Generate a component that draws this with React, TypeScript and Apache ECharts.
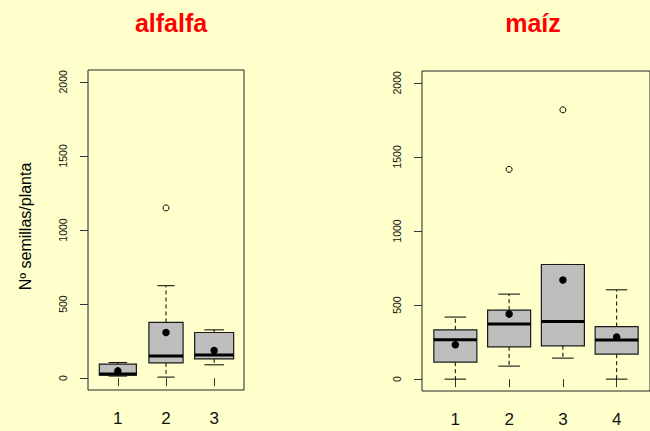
import React, { useEffect, useRef } from "react";
import * as echarts from "echarts";

// ---- data ----
const alfalfaCategories = ["1", "2", "3"];
// [lower whisker, Q1, median, Q3, upper whisker]
const alfalfaStats = [
  [14, 21, 28, 95, 105],
  [7, 103, 150, 376, 624],
  [90, 130, 157, 308, 326],
];
const alfalfaMeans = [49, 308, 187];
const alfalfaOutliers = [[2, 1149]];

const maizCategories = ["1", "2", "3", "4"];
const maizStats = [
  [0, 115, 266, 333, 419],
  [88, 218, 372, 466, 574],
  [142, 225, 389, 774, 774],
  [0, 169, 264, 355, 603],
];
const maizMeans = [232, 439, 669, 284];
const maizOutliers = [
  [2, 1416],
  [3, 1818],
];

const yTicks = [0, 500, 1000, 1500, 2000];

// ---- styles ----
const alfalfaBoxWidths = [0.77, 0.71, 0.81];
const maizBoxWidths = [0.8, 0.8, 0.8, 0.8];
const FONT = "Liberation Sans, Arial, Helvetica, sans-serif";
const BG = "#FFFFCC";

function renderBox(params: any, api: any) {
  const x = api.value(0);
  const low = api.value(1);
  const q1 = api.value(2);
  const med = api.value(3);
  const q3 = api.value(4);
  const high = api.value(5);
  const w = api.value(6);
  const cx = api.coord([x, med])[0];
  const yLow = api.coord([x, low])[1];
  const yQ1 = api.coord([x, q1])[1];
  const yMed = api.coord([x, med])[1];
  const yQ3 = api.coord([x, q3])[1];
  const yHigh = api.coord([x, high])[1];
  const half = api.size([w, 0])[0] / 2;
  const cap = half / 2;
  const dash = { stroke: "#000", lineWidth: 1, lineDash: [4, 3] };
  const solid = { stroke: "#000", lineWidth: 1 };
  return {
    type: "group",
    children: [
      { type: "line", shape: { x1: cx, y1: yQ1, x2: cx, y2: yLow }, style: dash },
      { type: "line", shape: { x1: cx, y1: yQ3, x2: cx, y2: yHigh }, style: dash },
      { type: "line", shape: { x1: cx - cap, y1: yLow, x2: cx + cap, y2: yLow }, style: solid },
      { type: "line", shape: { x1: cx - cap, y1: yHigh, x2: cx + cap, y2: yHigh }, style: solid },
      {
        type: "rect",
        shape: { x: cx - half, y: yQ3, width: half * 2, height: yQ1 - yQ3 },
        style: { fill: "#BEBEBE", stroke: "#1a1a1a", lineWidth: 1.2 },
      },
      {
        type: "line",
        shape: { x1: cx - half, y1: yMed, x2: cx + half, y2: yMed },
        style: { stroke: "#000", lineWidth: 3 },
      },
    ],
  };
}

function makeX(gridIndex: number, cats: string[]) {
  const vals = cats.map((_, i) => i + 1);
  return {
    gridIndex,
    type: "value",
    min: 0.38,
    max: cats.length + 0.62,
    axisLine: { show: false },
    splitLine: { show: false },
    axisTick: { show: true, length: 8, customValues: vals, lineStyle: { color: "#333", width: 1 } },
    axisLabel: {
      customValues: vals,
      formatter: (v: number) => cats[Math.round(v) - 1] ?? "",
      fontSize: 17,
      margin: 20,
      color: "#111",
      fontFamily: FONT,
    },
  };
}

function makeY(gridIndex: number) {
  return {
    gridIndex,
    type: "value",
    min: -80,
    max: 2080,
    axisLine: { show: false },
    splitLine: { show: false },
    axisTick: { show: true, length: 8, customValues: yTicks, lineStyle: { color: "#333", width: 1 } },
    axisLabel: {
      customValues: yTicks,
      formatter: (v: number) => String(v),
      rotate: 90,
      fontSize: 10.5,
      margin: 20,
      color: "#111",
      fontFamily: FONT,
    },
  };
}

export default function App() {
  const ref = useRef<HTMLDivElement>(null);
  useEffect(() => {
    if (!ref.current) return;
    const chart = echarts.init(ref.current, undefined, { renderer: "svg" });
    const grids = [
      { left: 88, top: 70, width: 156, height: 320 },
      { left: 422, top: 71, width: 233, height: 320 },
    ].map((g) => ({ ...g, show: true, borderColor: "#222", borderWidth: 1, backgroundColor: "transparent" }));

    const boxData = (stats: number[][], widths: number[]) =>
      stats.map((s, i) => [i + 1, ...s, widths[i]]);

    const meanStyle = { color: "#000", opacity: 1 };
    const outlierStyle = { color: "transparent", borderColor: "#000", borderWidth: 1, opacity: 1 };

    chart.setOption({
      animation: false,
      backgroundColor: BG,
      grid: grids,
      xAxis: [makeX(0, alfalfaCategories), makeX(1, maizCategories)],
      yAxis: [makeY(0), makeY(1)],
      graphic: [
        {
          type: "text",
          x: 171,
          y: 23,
          style: {
            text: "alfalfa",
            fill: "#FF0000",
            font: `bold 25px ${FONT}`,
            textAlign: "center",
            textVerticalAlign: "middle",
          },
        },
        {
          type: "text",
          x: 533,
          y: 23,
          style: {
            text: "maíz",
            fill: "#FF0000",
            font: `bold 25px ${FONT}`,
            textAlign: "center",
            textVerticalAlign: "middle",
          },
        },
        {
          type: "text",
          x: 25.5,
          y: 226.5,
          rotation: Math.PI / 2,
          style: {
            text: "Nº semillas/planta",
            fill: "#000",
            font: `16px ${FONT}`,
            textAlign: "center",
            textVerticalAlign: "middle",
          },
        },
      ],
      series: [
        {
          type: "custom",
          xAxisIndex: 0,
          yAxisIndex: 0,
          renderItem: renderBox,
          encode: { x: 0, y: [1, 2, 3, 4, 5] },
          data: boxData(alfalfaStats, alfalfaBoxWidths),
          z: 2,
        },
        {
          type: "custom",
          xAxisIndex: 1,
          yAxisIndex: 1,
          renderItem: renderBox,
          encode: { x: 0, y: [1, 2, 3, 4, 5] },
          data: boxData(maizStats, maizBoxWidths),
          z: 2,
        },
        {
          type: "scatter",
          xAxisIndex: 0,
          yAxisIndex: 0,
          symbol: "circle",
          symbolSize: 7.5,
          itemStyle: meanStyle,
          data: alfalfaMeans.map((m, i) => [i + 1, m]),
          z: 5,
        },
        {
          type: "scatter",
          xAxisIndex: 1,
          yAxisIndex: 1,
          symbol: "circle",
          symbolSize: 7.5,
          itemStyle: meanStyle,
          data: maizMeans.map((m, i) => [i + 1, m]),
          z: 5,
        },
        {
          type: "scatter",
          xAxisIndex: 0,
          yAxisIndex: 0,
          symbol: "circle",
          symbolSize: 6,
          itemStyle: outlierStyle,
          data: alfalfaOutliers,
          z: 5,
        },
        {
          type: "scatter",
          xAxisIndex: 1,
          yAxisIndex: 1,
          symbol: "circle",
          symbolSize: 6,
          itemStyle: outlierStyle,
          data: maizOutliers,
          z: 5,
        },
      ],
    });
    return () => chart.dispose();
  }, []);
  return (
    <div
      ref={ref}
      style={{ position: "absolute", left: 0, top: 0, width: 650, height: 431 }}
    />
  );
}
